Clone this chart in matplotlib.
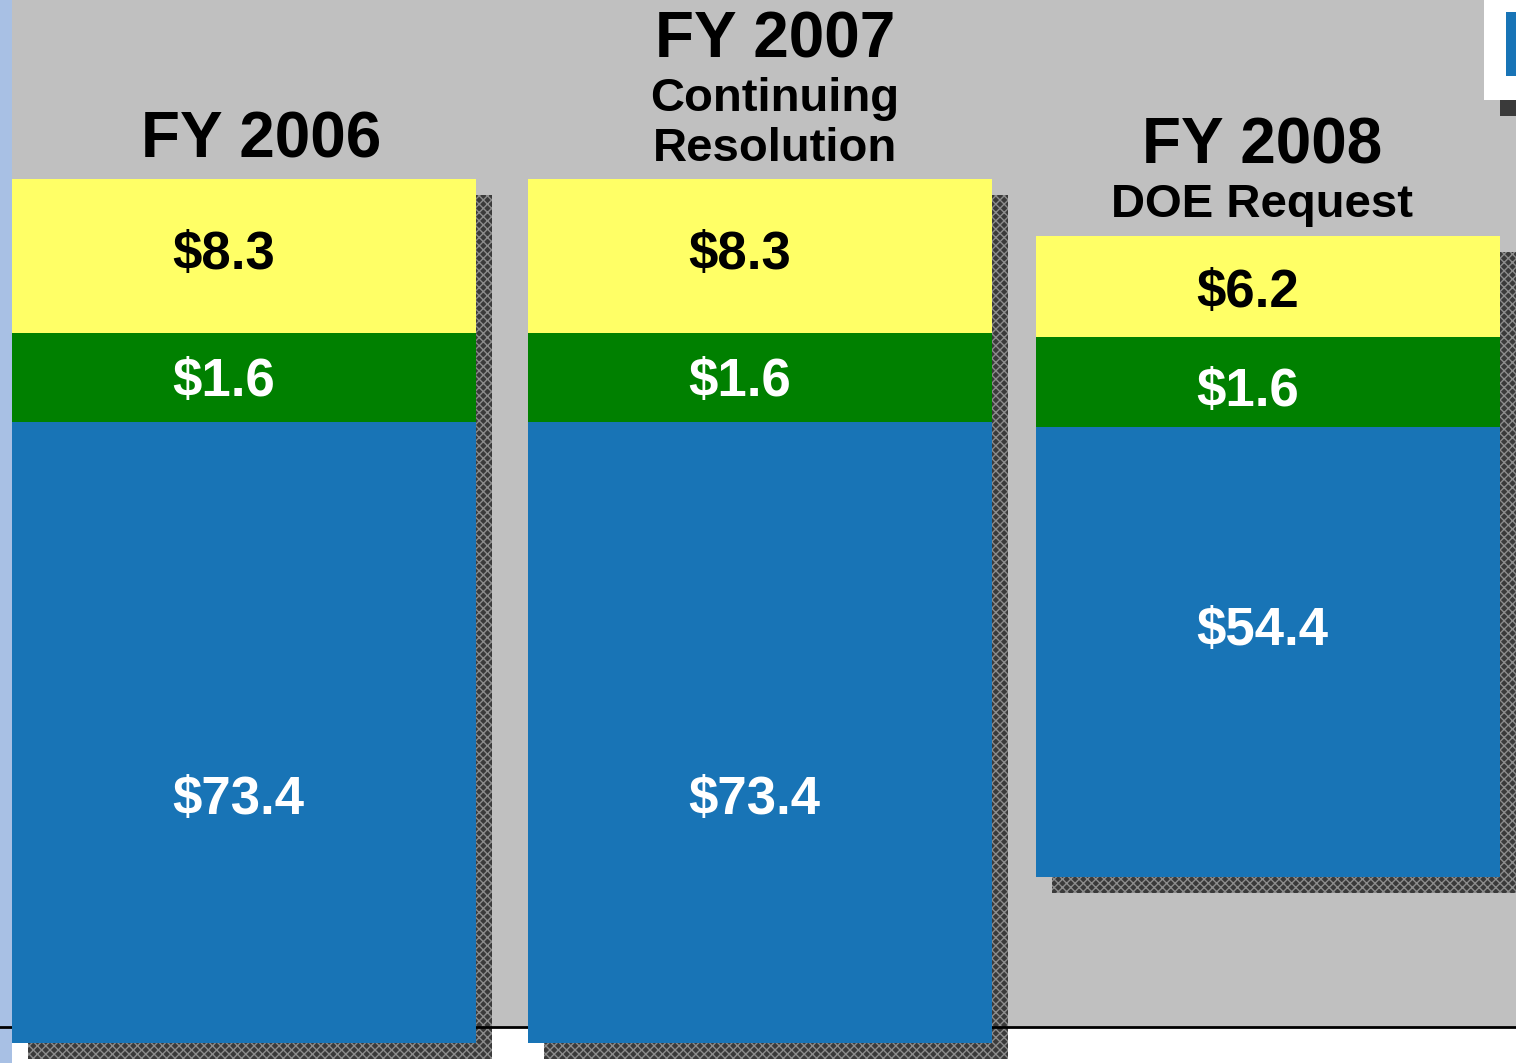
import matplotlib.pyplot as plt
import numpy as np
from matplotlib.patches import Rectangle

plt.rcParams['font.family'] = ['Liberation Sans', 'DejaVu Sans']

# labels shown on the segments (millions of dollars)
years = ['FY 2006', 'FY 2007', 'FY 2008']
subtitles = ['', 'Continuing\nResolution', 'DOE Request']
blue_vals = [73.4, 73.4, 54.4]
green_vals = [1.6, 1.6, 1.6]
yellow_vals = [8.3, 8.3, 6.2]

# segment heights as drawn on the slide (not to scale with the labels)
bar_base = [0, 0, 19.6]
blue_h = [73.4, 73.4, 53.2]
green_h = [10.5, 10.5, 10.7]
yellow_h = [18.2, 18.2, 11.9]

BLUE = '#1874B6'
GREEN = '#008000'
YELLOW = '#FFFF66'
GREY = '#C0C0C0'
SHADOW = '#3a3a3a'

W, H = 1516, 1063
fig = plt.figure(figsize=(W / 100, H / 100), dpi=100)
fig.patch.set_facecolor('white')


def fig_rect(x0, y0, x1, y1, color, z=0):
    # rectangle given in pixel coords from top-left
    r = Rectangle((x0 / W, 1 - y1 / H), (x1 - x0) / W, (y1 - y0) / H,
                  transform=fig.transFigure, facecolor=color, edgecolor='none', zorder=z)
    fig.add_artist(r)
    return r


fig_rect(12, 0, W, 1027, GREY, z=-10)
fig_rect(0, 0, 12, H, '#A8C0E4', z=-10)

ax = fig.add_axes([0, 0, 1, 1])
ax.patch.set_alpha(0)
ax.set_xlim(-0.4766, 2.484)
ax.set_ylim(-2.364, 123.29)
ax.axis('off')

# slide columns are not quite evenly spaced
x = np.array([0, 1.008, 2])
width = 0.906
sdx, sdy = 0.031, 1.89

base = np.array(bar_base, dtype=float)
b_blue = base
b_green = b_blue + np.array(blue_h)
b_yellow = b_green + np.array(green_h)

segments = [
    (blue_h, b_blue, BLUE),
    (green_h, b_green, GREEN),
    (yellow_h, b_yellow, YELLOW),
]

# drop shadows
for h, b, c in segments:
    ax.bar(x + sdx, h, width, bottom=b - sdy, color=SHADOW, hatch='xxxx',
           edgecolor='#8c8c8c', linewidth=0, zorder=1)

# baseline
ax.axhline(sdy, color='black', linewidth=2, zorder=2)

for h, b, c in segments:
    ax.bar(x, h, width, bottom=b, color=c, linewidth=0, zorder=3)

# segment labels
blue_frac = [0.392, 0.392, 0.547]
green_frac = [0.45, 0.45, 0.39]
yellow_frac = [0.51, 0.51, 0.43]
lab_dx = -0.14
for i in range(3):
    for vals, h, b, frac, col in [
        (blue_vals, blue_h, b_blue, blue_frac, 'white'),
        (green_vals, green_h, b_green, green_frac, 'white'),
        (yellow_vals, yellow_h, b_yellow, yellow_frac, 'black'),
    ]:
        ax.text(x[i] + lab_dx, b[i] + frac[i] * h[i], '\\$%.1f' % vals[i],
                ha='left', va='center', fontsize=38, fontweight='bold',
                color=col, zorder=5)


def px(xp, yp):
    return xp / W, 1 - yp / H


# column headings
sub2 = subtitles[1].split('\n')
fig.text(*px(261, 140), years[0], ha='center', va='center', fontsize=46, fontweight='bold')
fig.text(*px(775, 41), years[1], ha='center', va='center', fontsize=46, fontweight='bold')
fig.text(*px(775, 99), sub2[0], ha='center', va='center', fontsize=34, fontweight='bold')
fig.text(*px(775, 149), sub2[1], ha='center', va='center', fontsize=34, fontweight='bold')
fig.text(*px(1262, 146), years[2], ha='center', va='center', fontsize=46, fontweight='bold')
fig.text(*px(1262, 205), subtitles[2], ha='center', va='center', fontsize=34, fontweight='bold')

# clipped legend box at the top right
fig_rect(1500, 100, W, 116, SHADOW, z=5)
fig_rect(1484, 0, W, 100, 'white', z=6)
fig_rect(1506, 12, W, 76, BLUE, z=7)

fig.savefig('out.png', dpi=100)
